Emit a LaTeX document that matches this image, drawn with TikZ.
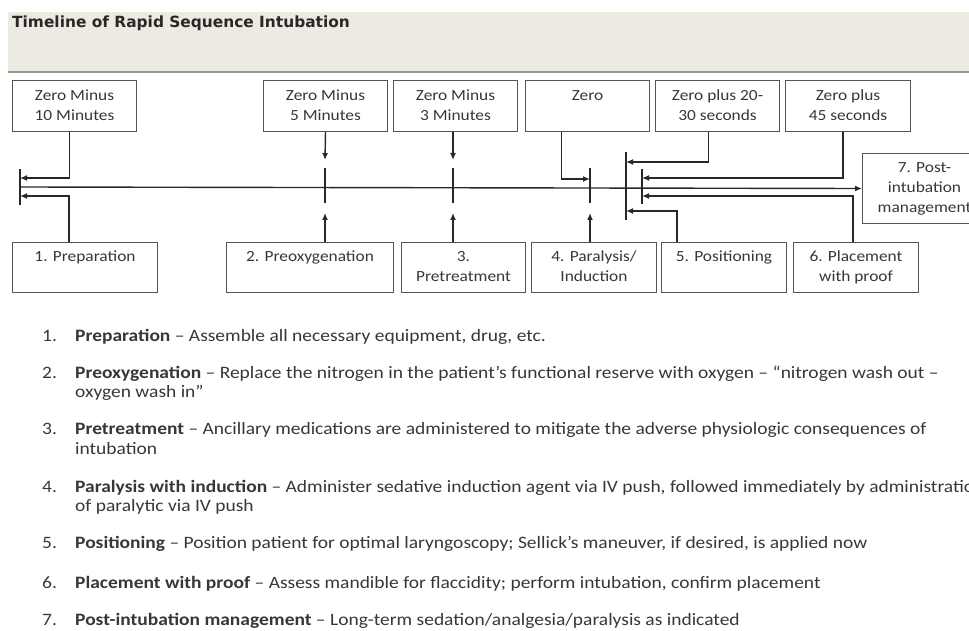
\documentclass[tikz,border=0pt]{standalone}
\usepackage{fontspec}
\setmainfont[FakeStretch=1.12]{Carlito}
\newfontfamily\titlefont{DejaVu Sans}
\usetikzlibrary{arrows.meta}
\definecolor{headbg}{RGB}{236,234,225}
\definecolor{headline}{RGB}{150,150,145}
\definecolor{boxgray}{RGB}{85,85,85}
\definecolor{linegray}{RGB}{40,40,40}
\definecolor{txtgray}{RGB}{55,55,55}
\newcommand{\boxfont}{\fontsize{15.5}{20}\selectfont}
\newcommand{\listfont}{\fontsize{17.4}{20}\selectfont}
\tikzset{
  tbox/.style={draw=boxgray, line width=1pt, anchor=north west, inner sep=0pt,
    minimum width=124pt, minimum height=51pt},
  boxtext/.style={anchor=north, align=center, inner sep=0pt, yshift=-10pt,
    text=txtgray, font=\boxfont},
  link/.style={draw=linegray, line width=1.4pt},
  tip/.style={link, -{Latex[length=7pt,width=6pt]}},
  num/.style={anchor=base west, inner sep=0pt, text=txtgray, font=\listfont},
  item/.style={anchor=base west, inner sep=0pt, text=txtgray, font=\listfont},
}
\begin{document}
\begin{tikzpicture}[x=1pt, y=-1pt]
  \useasboundingbox (0,0) rectangle (969,631);
  \clip (0,0) rectangle (969,631);

  % === header ===
  \fill[headbg] (8,12) rectangle (969,72);
  \draw[headline, line width=1.5pt] (8,72) -- (969,72);
  \node[anchor=base west, inner sep=0pt, text=linegray,
        font=\titlefont\fontsize{15.4}{18}\selectfont\bfseries] (title) at (12,27.5)
        {Timeline of Rapid Sequence Intubation};

  % === time boxes (top) ===
  \node[tbox] (zm10) at (12,80) {};
  \node[tbox] (zm5)  at (263,80) {};
  \node[tbox] (zm3)  at (393,80) {};
  \node[tbox] (zero) at (525,80) {};
  \node[tbox] (zp20) at (655,80) {};
  \node[tbox, minimum width=125pt] (zp45) at (785,80) {};
  \node[boxtext] (zm10t) at (zm10.north) {Zero Minus\\10 Minutes};
  \node[boxtext] (zm5t)  at (zm5.north)  {Zero Minus\\5 Minutes};
  \node[boxtext] (zm3t)  at (zm3.north)  {Zero Minus\\3 Minutes};
  \node[boxtext] (zerot) at (zero.north) {Zero};
  \node[boxtext] (zp20t) at (zp20.north) {Zero plus 20-\\30 seconds};
  \node[boxtext] (zp45t) at (zp45.north) {Zero plus\\45 seconds};

  % === step boxes (bottom) ===
  \node[tbox, minimum width=145pt, minimum height=50pt] (prep) at (12,242) {};
  \node[tbox, minimum width=167pt, minimum height=50pt] (prox) at (226,242) {};
  \node[tbox, minimum height=50pt] (pret) at (401,242) {};
  \node[tbox, minimum width=125pt, minimum height=50pt] (para) at (531,242) {};
  \node[tbox, minimum width=125pt, minimum height=50pt] (posi) at (661,242) {};
  \node[tbox, minimum width=125pt, minimum height=50pt] (plac) at (793,242) {};
  \node[tbox, minimum height=70pt] (post) at (862,153) {};
  \node[boxtext, yshift=1pt] (prept) at (prep.north) {1. Preparation};
  \node[boxtext, yshift=1pt] (proxt) at (prox.north) {2. Preoxygenation};
  \node[boxtext, yshift=1pt] (pret2) at (pret.north) {3.\\Pretreatment};
  \node[boxtext, yshift=1pt] (parat) at (para.north) {4. Paralysis/\\Induction};
  \node[boxtext, yshift=1pt] (posit) at (posi.north) {5. Positioning};
  \node[boxtext, yshift=1pt] (plact) at (plac.north) {6. Placement\\with proof};
  \node[boxtext, yshift=1pt] (postt) at (post.north) {7. Post-\\intubation\\management};

  % === timeline ===
  \coordinate (m10) at (20,187);
  \coordinate (m5)  at (325,187);
  \coordinate (m3)  at (453,187);
  \coordinate (z0)  at (590,187);
  \coordinate (z20) at (626,187);
  \coordinate (z45) at (642,187);
  \draw[tip] (m10) -- (post.west);
  \draw[link] (m10) ++(0,-18) -- ++(0,36);
  \draw[link] (m5)  ++(0,-19) -- ++(0,35);
  \draw[link] (m3)  ++(0,-19) -- ++(0,35);
  \draw[link] (z0)  ++(0,-19) -- ++(0,35);
  \draw[link] (z20) ++(0,-35) -- ++(0,68);
  \draw[link] (z45) ++(0,-18) -- ++(0,35);

  % connectors from the boxes
  \draw[tip] ([xshift=-5pt]zm10.south) |- ([yshift=9pt]m10);
  \draw[tip] ([xshift=-16pt]prep.north) |- ([yshift=-9pt]m10);
  \draw[tip] (zm5.south) -- ([yshift=27pt]m5);
  \draw[tip] (prox.north -| m5) -- ([yshift=-26pt]m5);
  \draw[tip] (zm3.south -| m3) -- ([yshift=27pt]m3);
  \draw[tip] (pret.north -| m3) -- ([yshift=-26pt]m3);
  \draw[tip] ([xshift=-26pt]zero.south) |- ([yshift=8pt]z0);
  \draw[tip] (para.north -| z0) -- ([yshift=-26pt]z0);
  \draw[tip] ([xshift=-9pt]zp20.south) |- ([yshift=25pt]z20);
  \draw[tip] ([xshift=-47pt]posi.north) |- ([yshift=-24pt]z20);
  \draw[tip] ([xshift=-5pt]zp45.south) |- ([yshift=9pt]z45);
  \draw[tip] ([xshift=-3pt]plac.north) |- ([yshift=-9pt]z45);

  % === numbered notes ===
  \node[num] (n1) at (42,341) {1.};
  \node[num] (n2) at (42,378) {2.};
  \node[num] (n3) at (42,434) {3.};
  \node[num] (n4) at (42,492) {4.};
  \node[num] (n5) at (42,548) {5.};
  \node[num] (n6) at (42,588) {6.};
  \node[num] (n7) at (42,625) {7.};
  \node[item] (i1)  at (75,341) {\textbf{Preparation} -- Assemble all necessary equipment, drug, etc.};
  \node[item] (i2a) at (75,378) {\textbf{Preoxygenation} -- Replace the nitrogen in the patient’s functional reserve with oxygen -- “nitrogen wash out --};
  \node[item] (i2b) at (75,397) {oxygen wash in”};
  \node[item] (i3a) at (75,434) {\textbf{Pretreatment} -- Ancillary medications are administered to mitigate the adverse physiologic consequences of};
  \node[item] (i3b) at (75,454) {intubation};
  \node[item] (i4a) at (75,492) {\textbf{Paralysis with induction} -- Administer sedative induction agent via IV push, followed immediately by administration};
  \node[item] (i4b) at (75,511) {of paralytic via IV push};
  \node[item] (i5)  at (75,548) {\textbf{Positioning} -- Position patient for optimal laryngoscopy; Sellick’s maneuver, if desired, is applied now};
  \node[item] (i6)  at (75,588) {\textbf{Placement with proof} -- Assess mandible for flaccidity; perform intubation, confirm placement};
  \node[item] (i7)  at (75,625) {\textbf{Post-intubation management} -- Long-term sedation/analgesia/paralysis as indicated};
\end{tikzpicture}
\end{document}
